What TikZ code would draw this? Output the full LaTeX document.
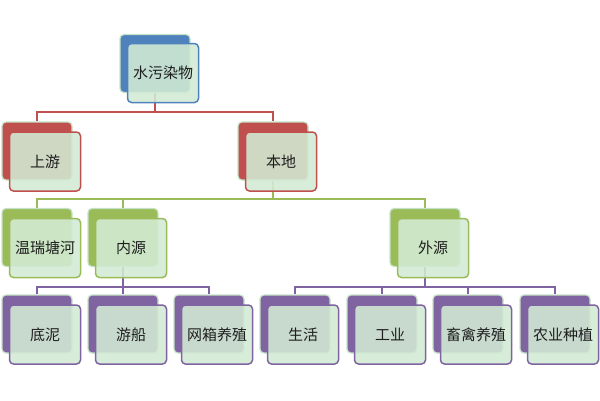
\documentclass[tikz,border=0pt]{standalone}
\usepackage{fontspec}
\newfontfamily\cjk{Noto Sans CJK SC}
\usetikzlibrary{backgrounds}

\definecolor{chblue}{HTML}{4F81BD}
\definecolor{chred}{HTML}{C0504D}
\definecolor{chgreen}{HTML}{9BBB59}
\definecolor{chpurple}{HTML}{8064A2}
\definecolor{boxfill}{HTML}{D2EBD4}
\definecolor{boxedge}{HTML}{C4E3C6}
\definecolor{boxtext}{HTML}{1E1E1E}

\tikzset{
  back/.style={rectangle, rounded corners=4pt, draw=boxedge, line width=1.2pt, fill=#1,
    minimum width=70pt, minimum height=58pt, inner sep=0pt},
  front/.style={rectangle, rounded corners=4pt, draw=#1, line width=1.5pt, fill=boxfill,
    fill opacity=0.88, text opacity=1, text=boxtext, minimum width=71pt, minimum height=59pt,
    inner sep=0pt, font=\cjk\fontsize{15}{17}\selectfont},
  link/.style={line width=1.6pt, draw=#1},
}

\begin{document}
\begin{tikzpicture}[x=1pt, y=-1pt]
  \useasboundingbox (0,0) rectangle (600,400);

  % top
  \node[back=chblue] (root-b) at (155,63.5) {};
  \node[front=chblue] (root) at (163,73) {水污染物};

  % level 1
  \node[back=chred] (up-b) at (37,151) {};
  \node[front=chred] (up) at (45,161.5) {上游};
  \node[back=chred] (here-b) at (273,151) {};
  \node[front=chred] (here) at (281,161.5) {本地};

  % level 2
  \node[back=chgreen] (river-b) at (37,237.5) {};
  \node[front=chgreen] (river) at (45,248) {温瑞塘河};
  \node[back=chgreen] (in-b) at (123,237.5) {};
  \node[front=chgreen] (in) at (131,248) {内源};
  \node[back=chgreen] (out-b) at (425,237.5) {};
  \node[front=chgreen] (out) at (433,248) {外源};

  % level 3
  \node[back=chpurple] (mud-b) at (37,324) {};
  \node[front=chpurple] (mud) at (45,334.5) {底泥};
  \node[back=chpurple] (boat-b) at (123,324) {};
  \node[front=chpurple] (boat) at (131,334.5) {游船};
  \node[back=chpurple] (cage-b) at (209,324) {};
  \node[front=chpurple] (cage) at (217,334.5) {网箱养殖};
  \node[back=chpurple] (life-b) at (295,324) {};
  \node[front=chpurple] (life) at (303,334.5) {生活};
  \node[back=chpurple] (ind-b) at (382,324) {};
  \node[front=chpurple] (ind) at (390,334.5) {工业};
  \node[back=chpurple] (stock-b) at (468,324) {};
  \node[front=chpurple] (stock) at (476,334.5) {畜禽养殖};
  \node[back=chpurple] (farm-b) at (555,324) {};
  \node[front=chpurple] (farm) at (563,334.5) {农业种植};

  \begin{scope}[on background layer]
    \coordinate (bus1) at (155,112);
    \coordinate (bus2) at (273,199);
    \coordinate (bus3) at (123,287);
    \coordinate (bus4) at (425,287);

    \draw[link=chred] (root-b.south) -- (bus1);
    \draw[link=chred] (up-b.north) |- (bus1) -| (here-b.north);

    \draw[link=chgreen] (here-b.south) -- (bus2);
    \draw[link=chgreen] (river-b.north) |- (bus2) -| (out-b.north);
    \draw[link=chgreen] (in-b.north) -- (in-b.north |- bus2);

    \draw[link=chpurple] (in-b.south) -- (bus3);
    \draw[link=chpurple] (mud-b.north) |- (bus3) -| (cage-b.north);
    \draw[link=chpurple] (boat-b.north) -- (bus3);

    \draw[link=chpurple] (out-b.south) -- (bus4);
    \draw[link=chpurple] (life-b.north) |- (bus4) -| (farm-b.north);
    \draw[link=chpurple] (ind-b.north) -- (ind-b.north |- bus4);
    \draw[link=chpurple] (stock-b.north) -- (stock-b.north |- bus4);
  \end{scope}
\end{tikzpicture}
\end{document}
